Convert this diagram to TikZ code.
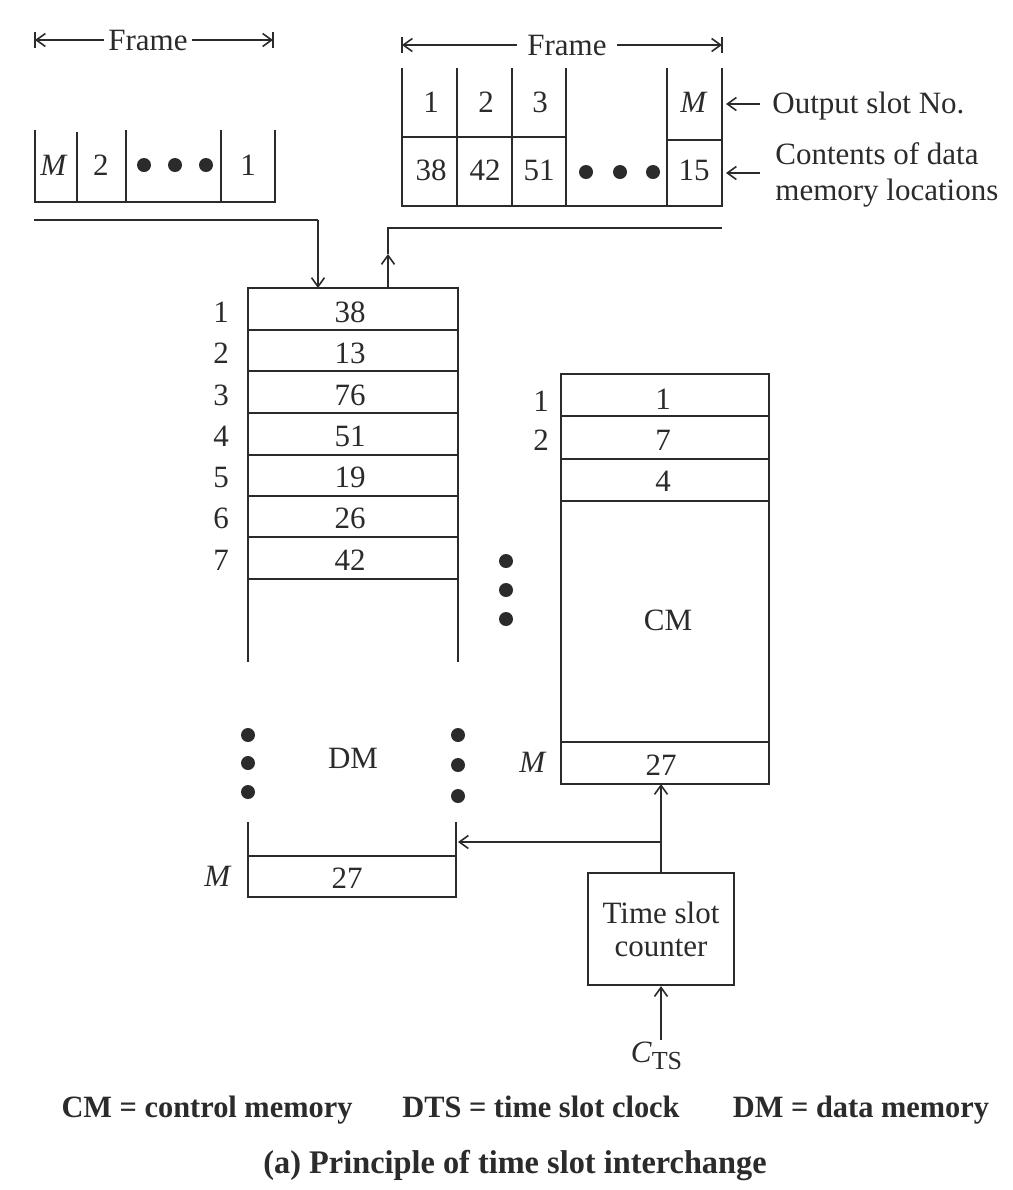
\documentclass[tikz,border=0pt]{standalone}
\usepackage{fontspec}
\setmainfont{Liberation Serif}
\usetikzlibrary{arrows.meta}
\definecolor{ink}{HTML}{2B2B2B}
\begin{document}
\begin{tikzpicture}[x=0.5pt,y=-0.5pt,
  every node/.style={inner sep=0pt, text=ink},
  ln/.style={draw=ink, line width=1.1pt},
  thin/.style={draw=ink, line width=0.8pt},
  arr/.style={thin, -{Straight Barb[length=4.5pt,width=6.5pt]}},
  txt/.style={font=\fontsize{15.5}{18}\selectfont},
  bdot/.style={circle, fill=ink, minimum size=7pt},
  leg/.style={font=\fontsize{15.5}{18}\bfseries\selectfont, anchor=base}
]
\useasboundingbox[fill=white] (0,0) rectangle (1013,1190);

% ---------- left input frame ----------
\node[txt, inner xsep=2pt] (fL) at (148,40) {Frame};
\coordinate (fLa) at (35,40);
\coordinate (fLb) at (273,40);
\draw[arr] (fL.west) -- (fLa);
\draw[arr] (fL.east) -- (fLb);
\draw[thin] (35,32) -- (35,48);
\draw[thin] (273,32) -- (273,48);

\draw[ln] (35,130) -- (35,202) -- (275,202) -- (275,130);
\draw[ln] (77,132) -- (77,202);
\draw[ln] (126,130) -- (126,202);
\draw[ln] (221,130) -- (221,202);
\node[txt] (inM) at (54,165) {\textit{M}};
\node[txt] (in2) at (101,165) {2};
\node[bdot] (ind1) at (144,165) {};
\node[bdot] (ind2) at (175,165) {};
\node[bdot] (ind3) at (206,165) {};
\node[txt] (in1) at (248,165) {1};

% ---------- right output frame ----------
\node[txt, inner xsep=5pt] (fR) at (567,45) {Frame};
\coordinate (fRa) at (402,45);
\coordinate (fRb) at (722,45);
\draw[arr] (fR.west) -- (fRa);
\draw[arr] (fR.east) -- (fRb);
\draw[thin] (402,37) -- (402,53);
\draw[thin] (722,37) -- (722,53);

\draw[ln] (402,68) -- (402,206) -- (722,206) -- (722,68);
\draw[ln] (457,68) -- (457,206);
\draw[ln] (512,68) -- (512,206);
\draw[ln] (566,68) -- (566,206);
\draw[ln] (667,68) -- (667,206);
\draw[ln] (402,137) -- (566,137);
\draw[ln] (667,140) -- (722,140);
\node[txt] (o1) at (431,102) {1};
\node[txt] (o2) at (486,102) {2};
\node[txt] (o3) at (540,102) {3};
\node[txt] (oM) at (694,102) {\textit{M}};
\node[txt] (c1) at (431,170) {38};
\node[txt] (c2) at (485,170) {42};
\node[txt] (c3) at (539,170) {51};
\node[bdot] (od1) at (586,172) {};
\node[bdot] (od2) at (620,172) {};
\node[bdot] (od3) at (653,172) {};
\node[txt] (cM) at (694,170) {15};

\node[txt, anchor=west] (osn) at (772,106) {Output slot No.};
\node[txt, anchor=west, align=left, font=\fontsize{15.5}{18}\selectfont] (cdm) at (775,175) {Contents of data\\memory locations};
\coordinate (osnA) at (760,104);
\coordinate (osnB) at (726,104);
\coordinate (cdmA) at (760,173);
\coordinate (cdmB) at (726,173);
\draw[arr] (osnA) -- (osnB);
\draw[arr] (cdmA) -- (cdmB);

% ---------- data memory ----------
\draw[ln] (248,662) -- (248,288) -- (458,288) -- (458,662);
\foreach \y in {330,371,413,455,496,537,579} \draw[ln] (248,\y) -- (458,\y);
\foreach \n/\v/\y in {1/38/312,2/13/353,3/76/395,4/51/436,5/19/477,6/26/518,7/42/560}{
  \node[txt] (dmn\n) at (221,\y) {\n};
  \node[txt] (dmv\n) at (350,\y) {\v};
}
\node[bdot] (dml1) at (248,735) {};
\node[bdot] (dml2) at (248,763) {};
\node[bdot] (dml3) at (248,792) {};
\node[bdot] (dmr1) at (458,735) {};
\node[bdot] (dmr2) at (458,765) {};
\node[bdot] (dmr3) at (458,796) {};
\node[txt] (dm) at (353,758) {DM};
\draw[ln] (248,822) -- (248,897) -- (456,897) -- (456,822);
\draw[ln] (248,856) -- (456,856);
\node[txt] (dmMn) at (218,876) {\textit{M}};
\node[txt] (dmMv) at (347,878) {27};
\coordinate (dmTopIn) at (318,288);
\coordinate (dmTopOut) at (388,288);
\coordinate (dmSide) at (458,842);

% ---------- control memory ----------
\draw[ln] (561,374) rectangle (769,784);
\foreach \y in {416,459,501,742} \draw[ln] (561,\y) -- (769,\y);
\node[txt] (cmn1) at (541,401) {1};
\node[txt] (cmn2) at (541,440) {2};
\node[txt] (cmv1) at (663,399) {1};
\node[txt] (cmv2) at (663,440) {7};
\node[txt] (cmv3) at (663,481) {4};
\node[txt] (cm) at (668,620) {CM};
\node[txt] (cmMn) at (533,762) {\textit{M}};
\node[txt] (cmMv) at (661,765) {27};
\node[bdot] (cmd1) at (506,561) {};
\node[bdot] (cmd2) at (506,590) {};
\node[bdot] (cmd3) at (506,619) {};
\coordinate (cmBot) at (661,784);

% ---------- time slot counter ----------
\node[ln, minimum width=73pt, minimum height=56pt, align=center,
      font=\fontsize{15.5}{16.5}\selectfont] (tsc) at (661,929) {Time slot\\counter};
\node[txt] (cts) at (657,1056) {\textit{C}\textsubscript{\fontsize{13}{14}\selectfont TS}};
\coordinate (ctsTop) at (661,1040);
\coordinate (br) at (661,842);

% ---------- connectors ----------
\coordinate (inA) at (34,220);
\coordinate (inB) at (318,220);
\draw[thin] (inA) -- (inB);
\draw[arr] (inB) -- (dmTopIn);
\coordinate (outA) at (722,228);
\coordinate (outB) at (388,228);
\coordinate (outTip) at (388,254);
\draw[thin] (outA) -- (outB) -- (outTip);
\draw[arr] (dmTopOut) -- (outTip);

\draw[arr] (tsc.north) -- (cmBot);
\draw[arr] (br) -- (dmSide);
\draw[arr] (ctsTop) -- (tsc.south);

% ---------- legend ----------
\node[leg] (l1) at (207,1117) {\scalebox{0.98}[1]{CM = control memory}};
\node[leg] (l2) at (541,1117) {\scalebox{0.98}[1]{DTS = time slot clock}};
\node[leg] (l3) at (861,1117) {\scalebox{0.98}[1]{DM = data memory}};
\node[leg, font=\fontsize{16.5}{19}\bfseries\selectfont] (cap) at (515,1173) {\scalebox{0.98}[1]{(a) Principle of time slot interchange}};
\end{tikzpicture}
\end{document}
